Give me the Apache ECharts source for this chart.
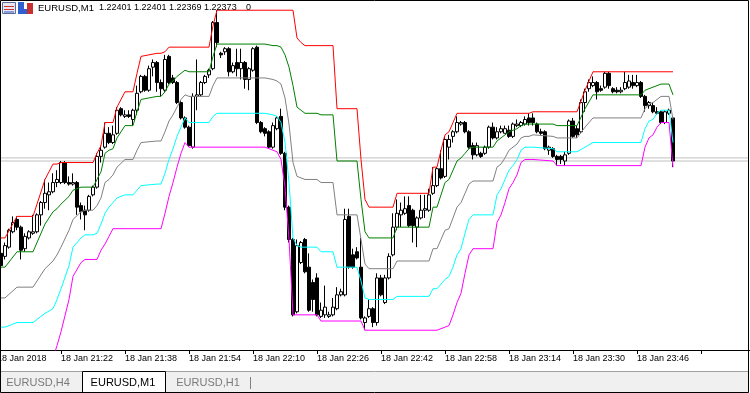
<!DOCTYPE html>
<html><head><meta charset="utf-8">
<script src="https://cdn.jsdelivr.net/npm/echarts/dist/echarts.min.js"></script>
<style>html,body{margin:0;padding:0;background:#fff;}#c{width:750px;height:393px;}</style>
</head><body><div id="c"></div>
<script>
// ---- chart header / labels ----
const symbol = 'EURUSD,M1';
const headerOHLC = [1.22401, 1.22401, 1.22369, 1.22373];
const headerExtra = '0';
const tickLabels = ['18 Jan 2018','18 Jan 21:22','18 Jan 21:38','18 Jan 21:54','18 Jan 22:10','18 Jan 22:26','18 Jan 22:42','18 Jan 22:58','18 Jan 23:14','18 Jan 23:30','18 Jan 23:46'];
const tabs = ['EURUSD,H4','EURUSD,M1','EURUSD,H1'];
const activeTab = 1;
const bidPrice = 1.22373, askPrice = 1.22375;

// ---- M1 candles from 21:06 ----
const open = [
1.22312,1.22313,1.22311,1.22317,1.22327,1.22335,1.22330,1.22316,1.22323,1.22326,
1.22327,1.22338,1.22346,1.22351,1.22353,1.22359,1.22359,1.22372,1.22359,1.22358,
1.22359,1.22344,1.22341,1.22341,1.22351,1.22356,1.22376,1.22382,1.22391,1.22385,
1.22391,1.22407,1.22402,1.22403,1.22400,1.22406,1.22418,1.22428,1.22419,1.22434,
1.22437,1.22424,1.22419,1.22441,1.22427,1.22424,1.22411,1.22401,1.22395,1.22382,
1.22415,1.22416,1.22424,1.22429,1.22433,1.22463,1.22443,1.22444,1.22446,1.22431,
1.22437,1.22433,1.22437,1.22426,1.22432,1.22447,1.22398,1.22394,1.22392,1.22382,
1.22394,1.22402,1.22378,1.22343,1.22322,1.22275,1.22307,1.22322,1.22304,1.22294,
1.22297,1.22272,1.22273,1.22272,1.22273,1.22277,1.22286,1.22286,1.22337,1.22312,
1.22314,1.22304,1.22268,1.22272,1.22277,1.22268,1.22297,1.22281,1.22297,1.22312,
1.22330,1.22338,1.22339,1.22344,1.22341,1.22330,1.22336,1.22341,1.22341,1.22352,
1.22357,1.22368,1.22363,1.22382,1.22389,1.22392,1.22397,1.22398,1.22392,1.22383,
1.22377,1.22378,1.22378,1.22382,1.22395,1.22388,1.22392,1.22391,1.22393,1.22389,
1.22396,1.22396,1.22397,1.22401,1.22401,1.22397,1.22392,1.22392,1.22380,1.22381,
1.22376,1.22376,1.22373,1.22378,1.22399,1.22394,1.22392,1.22411,1.22420,1.22422,
1.22424,1.22420,1.22421,1.22430,1.22420,1.22419,1.22418,1.22420,1.22421,1.22424,
1.22422,1.22424,1.22415,1.22409,1.22409,1.22405,1.22405,1.22398,1.22404,1.22401];
const close = [
1.22305,1.22305,1.22318,1.22328,1.22333,1.22330,1.22315,1.22324,1.22327,1.22327,
1.22338,1.22346,1.22352,1.22353,1.22359,1.22361,1.22372,1.22359,1.22358,1.22359,
1.22343,1.22340,1.22338,1.22350,1.22356,1.22376,1.22380,1.22391,1.22385,1.22390,
1.22406,1.22403,1.22403,1.22402,1.22406,1.22417,1.22428,1.22419,1.22433,1.22437,
1.22424,1.22420,1.22439,1.22424,1.22424,1.22411,1.22401,1.22395,1.22383,1.22415,
1.22416,1.22424,1.22428,1.22432,1.22463,1.22450,1.22442,1.22446,1.22431,1.22435,
1.22433,1.22437,1.22426,1.22433,1.22446,1.22398,1.22392,1.22391,1.22382,1.22396,
1.22401,1.22378,1.22343,1.22322,1.22273,1.22318,1.22320,1.22301,1.22276,1.22283,
1.22273,1.22276,1.22278,1.22273,1.22278,1.22286,1.22288,1.22335,1.22304,1.22304,
1.22310,1.22271,1.22271,1.22277,1.22268,1.22297,1.22286,1.22297,1.22311,1.22330,
1.22339,1.22341,1.22342,1.22331,1.22331,1.22336,1.22341,1.22342,1.22351,1.22357,
1.22368,1.22362,1.22387,1.22387,1.22392,1.22398,1.22398,1.22392,1.22382,1.22377,
1.22383,1.22376,1.22382,1.22395,1.22388,1.22392,1.22394,1.22394,1.22389,1.22397,
1.22397,1.22398,1.22400,1.22398,1.22398,1.22392,1.22391,1.22381,1.22382,1.22376,
1.22374,1.22374,1.22377,1.22399,1.22389,1.22390,1.22411,1.22418,1.22424,1.22424,
1.22418,1.22419,1.22430,1.22422,1.22418,1.22418,1.22419,1.22424,1.22425,1.22422,
1.22424,1.22415,1.22409,1.22411,1.22405,1.22404,1.22398,1.22405,1.22406,1.22373];
const low = [
1.22302,1.22302,1.22309,1.22316,1.22326,1.22328,1.22309,1.22314,1.22322,1.22325,
1.22326,1.22331,1.22342,1.22341,1.22352,1.22356,1.22358,1.22358,1.22357,1.22357,
1.22338,1.22335,1.22328,1.22340,1.22350,1.22355,1.22372,1.22381,1.22384,1.22384,
1.22390,1.22402,1.22401,1.22401,1.22396,1.22403,1.22417,1.22418,1.22418,1.22428,
1.22418,1.22415,1.22418,1.22423,1.22423,1.22410,1.22400,1.22394,1.22382,1.22381,
1.22406,1.22415,1.22423,1.22427,1.22432,1.22447,1.22440,1.22442,1.22428,1.22430,
1.22428,1.22426,1.22420,1.22419,1.22431,1.22397,1.22391,1.22389,1.22381,1.22381,
1.22393,1.22377,1.22341,1.22320,1.22272,1.22274,1.22306,1.22300,1.22275,1.22275,
1.22272,1.22271,1.22271,1.22271,1.22272,1.22276,1.22285,1.22285,1.22303,1.22303,
1.22309,1.22270,1.22263,1.22271,1.22265,1.22266,1.22285,1.22280,1.22296,1.22311,
1.22328,1.22330,1.22338,1.22330,1.22320,1.22317,1.22335,1.22336,1.22340,1.22351,
1.22356,1.22361,1.22362,1.22374,1.22385,1.22391,1.22396,1.22391,1.22381,1.22374,
1.22376,1.22375,1.22377,1.22381,1.22387,1.22387,1.22391,1.22391,1.22388,1.22388,
1.22395,1.22395,1.22396,1.22396,1.22396,1.22391,1.22390,1.22380,1.22377,1.22375,
1.22370,1.22371,1.22370,1.22377,1.22388,1.22388,1.22391,1.22405,1.22418,1.22421,
1.22413,1.22418,1.22420,1.22420,1.22417,1.22417,1.22417,1.22419,1.22420,1.22420,
1.22421,1.22414,1.22405,1.22407,1.22404,1.22403,1.22397,1.22397,1.22403,1.22369];
const high = [
1.22315,1.22315,1.22320,1.22329,1.22337,1.22337,1.22331,1.22326,1.22328,1.22338,
1.22339,1.22347,1.22361,1.22359,1.22365,1.22367,1.22373,1.22373,1.22363,1.22365,
1.22360,1.22346,1.22344,1.22351,1.22357,1.22378,1.22383,1.22398,1.22395,1.22396,
1.22408,1.22408,1.22406,1.22406,1.22407,1.22422,1.22429,1.22429,1.22435,1.22439,
1.22438,1.22426,1.22442,1.22442,1.22429,1.22425,1.22412,1.22402,1.22396,1.22417,
1.22439,1.22425,1.22429,1.22433,1.22464,1.22471,1.22444,1.22447,1.22447,1.22437,
1.22446,1.22446,1.22438,1.22434,1.22447,1.22448,1.22399,1.22395,1.22393,1.22398,
1.22402,1.22407,1.22379,1.22344,1.22323,1.22322,1.22321,1.22323,1.22313,1.22296,
1.22300,1.22281,1.22292,1.22275,1.22284,1.22291,1.22290,1.22342,1.22342,1.22316,
1.22317,1.22323,1.22272,1.22283,1.22278,1.22300,1.22299,1.22299,1.22313,1.22339,
1.22348,1.22346,1.22350,1.22350,1.22342,1.22337,1.22351,1.22351,1.22355,1.22369,
1.22369,1.22380,1.22389,1.22390,1.22393,1.22402,1.22399,1.22399,1.22393,1.22385,
1.22385,1.22379,1.22383,1.22396,1.22398,1.22395,1.22396,1.22396,1.22396,1.22398,
1.22400,1.22399,1.22402,1.22404,1.22404,1.22398,1.22394,1.22393,1.22383,1.22382,
1.22377,1.22377,1.22379,1.22400,1.22401,1.22396,1.22413,1.22420,1.22426,1.22428,
1.22425,1.22422,1.22431,1.22431,1.22421,1.22421,1.22421,1.22431,1.22429,1.22429,
1.22429,1.22425,1.22416,1.22412,1.22411,1.22408,1.22406,1.22406,1.22407,1.22401];

// ---- channel lines: bar index of each vertex and the level there ----
const bandIdx = [0,2,5,9,12,14,15,16,18,19,21,22,24,25,26,27,28,29,30,32,34,35,36,40,41,42,43,44,45,46,47,48,53,54,55,67,69,70,71,72,73,74,75,76,77,80,81,84,85,90,91,92,93,99,100,108,109,110,111,112,113,114,115,116,117,118,119,124,125,126,127,128,129,130,131,132,133,134,139,140,145,147,149,161,162,163,164,165,166,168,169];
const upper = [
1.22323,1.22323,1.22337,1.22337,1.22361,1.22371,1.22371,1.22372,1.22372,1.22372,
1.22372,1.22372,1.22372,1.22378,1.22383,1.22398,1.22398,1.22398,1.22408,1.22418,
1.22418,1.22430,1.22441,1.22443,1.22443,1.22444,1.22447,1.22447,1.22447,1.22447,
1.22447,1.22447,1.22447,1.22461,1.22471,1.22471,1.22471,1.22471,1.22471,1.22471,
1.22471,1.22471,1.22453,1.22450,1.22448,1.22448,1.22448,1.22448,1.22407,1.22407,
1.22374,1.22348,1.22343,1.22343,1.22352,1.22352,1.22369,1.22369,1.22380,1.22390,
1.22392,1.22398,1.22404,1.22404,1.22404,1.22404,1.22404,1.22404,1.22404,1.22404,
1.22404,1.22404,1.22404,1.22404,1.22404,1.22404,1.22404,1.22405,1.22405,1.22405,
1.22405,1.22419,1.22431,1.22431,1.22431,1.22431,1.22431,1.22431,1.22431,1.22431,
1.22431];
const upperQ = [
1.22304,1.22304,1.22314,1.22314,1.22332,1.22340,1.22342,1.22345,1.22350,1.22354,
1.22356,1.22356,1.22356,1.22361,1.22366,1.22378,1.22380,1.22381,1.22388,1.22396,
1.22396,1.22405,1.22413,1.22415,1.22415,1.22418,1.22423,1.22425,1.22428,1.22430,
1.22432,1.22431,1.22431,1.22441,1.22449,1.22449,1.22448,1.22448,1.22447,1.22442,
1.22434,1.22422,1.22408,1.22406,1.22404,1.22404,1.22403,1.22403,1.22373,1.22373,
1.22348,1.22327,1.22323,1.22323,1.22330,1.22330,1.22343,1.22343,1.22351,1.22359,
1.22361,1.22367,1.22373,1.22375,1.22378,1.22381,1.22382,1.22382,1.22386,1.22388,
1.22390,1.22392,1.22393,1.22394,1.22396,1.22397,1.22397,1.22397,1.22397,1.22396,
1.22396,1.22407,1.22416,1.22416,1.22419,1.22420,1.22421,1.22422,1.22423,1.22423,
1.22416];
const middle = [
1.22284,1.22284,1.22291,1.22291,1.22303,1.22308,1.22312,1.22317,1.22328,1.22335,
1.22340,1.22341,1.22341,1.22344,1.22349,1.22359,1.22361,1.22364,1.22369,1.22374,
1.22374,1.22380,1.22385,1.22386,1.22386,1.22392,1.22399,1.22403,1.22408,1.22413,
1.22416,1.22415,1.22415,1.22422,1.22427,1.22427,1.22426,1.22425,1.22423,1.22414,
1.22397,1.22372,1.22363,1.22362,1.22361,1.22361,1.22359,1.22359,1.22338,1.22338,
1.22322,1.22306,1.22303,1.22303,1.22308,1.22308,1.22316,1.22316,1.22322,1.22328,
1.22329,1.22336,1.22343,1.22346,1.22352,1.22358,1.22360,1.22360,1.22369,1.22371,
1.22375,1.22380,1.22382,1.22384,1.22388,1.22389,1.22389,1.22390,1.22389,1.22388,
1.22388,1.22395,1.22401,1.22401,1.22407,1.22410,1.22411,1.22413,1.22415,1.22415,
1.22400];
const lowerQ = [
1.22265,1.22265,1.22268,1.22268,1.22274,1.22277,1.22283,1.22290,1.22305,1.22317,
1.22323,1.22325,1.22325,1.22326,1.22332,1.22339,1.22343,1.22346,1.22349,1.22351,
1.22351,1.22354,1.22357,1.22358,1.22358,1.22365,1.22374,1.22381,1.22389,1.22395,
1.22401,1.22398,1.22398,1.22402,1.22404,1.22404,1.22403,1.22402,1.22398,1.22385,
1.22359,1.22323,1.22318,1.22317,1.22317,1.22317,1.22314,1.22314,1.22304,1.22304,
1.22295,1.22284,1.22283,1.22283,1.22285,1.22285,1.22290,1.22290,1.22293,1.22296,
1.22298,1.22304,1.22312,1.22316,1.22326,1.22335,1.22338,1.22338,1.22351,1.22355,
1.22361,1.22367,1.22370,1.22374,1.22380,1.22382,1.22382,1.22382,1.22381,1.22379,
1.22379,1.22382,1.22385,1.22385,1.22394,1.22399,1.22400,1.22404,1.22406,1.22406,
1.22385];
const lower = [
1.22245,1.22245,1.22245,1.22245,1.22245,1.22245,1.22253,1.22262,1.22283,1.22298,
1.22307,1.22309,1.22309,1.22309,1.22315,1.22319,1.22324,1.22329,1.22329,1.22329,
1.22329,1.22329,1.22329,1.22329,1.22329,1.22339,1.22350,1.22359,1.22369,1.22378,
1.22385,1.22382,1.22382,1.22382,1.22382,1.22382,1.22380,1.22379,1.22374,1.22356,
1.22322,1.22273,1.22273,1.22273,1.22273,1.22273,1.22269,1.22269,1.22269,1.22269,
1.22269,1.22263,1.22263,1.22263,1.22263,1.22263,1.22263,1.22263,1.22264,1.22265,
1.22266,1.22273,1.22281,1.22287,1.22300,1.22312,1.22316,1.22316,1.22333,1.22338,
1.22346,1.22355,1.22359,1.22364,1.22372,1.22374,1.22374,1.22374,1.22373,1.22370,
1.22370,1.22370,1.22370,1.22370,1.22382,1.22388,1.22390,1.22395,1.22398,1.22398,
1.22369];

// ---- build ----
const startMinute = 21 * 60 + 6, slotCount = 189, labelStep = 16;
const categories = [];
for (let i = 0; i < slotCount; i++) {
  const m = startMinute + i;
  categories.push(String(Math.floor(m / 60) % 24).padStart(2, '0') + ':' + String(m % 60).padStart(2, '0'));
}
const candleData = open.map((o, i) => [o, close[i], low[i], high[i]]);
const pts = arr => bandIdx.map((ix, k) => [ix, arr[k]]);
const showTick = idx => idx % labelStep === 0;
const FONT = '"Liberation Sans", Arial, sans-serif';

function lineSeries(name, data, color, z) {
  return { name, type: 'line', data, symbol: 'none', showSymbol: false, silent: true, z,
    lineStyle: { color, width: 1 }, emphasis: { disabled: true }, animation: false };
}
const priceLine = p => [[0, p], [slotCount - 1, p]];

const chart = echarts.init(document.getElementById('c'), null, { renderer: 'canvas' });
const graphic = [
  { type: 'rect', shape: { x: 1, y: 372, width: 747, height: 20 }, style: { fill: '#f0f0f0' }, z: 10 },
  { type: 'line', shape: { x1: 1, y1: 371.5, x2: 748, y2: 371.5 }, style: { stroke: '#a0a0a0', lineWidth: 1 }, z: 11 },
  { type: 'rect', shape: { x: 82.5, y: 371.5, width: 83, height: 21 }, style: { fill: '#ffffff', stroke: '#000', lineWidth: 1 }, z: 11 },
  { type: 'line', shape: { x1: 250.5, y1: 377, x2: 250.5, y2: 389 }, style: { stroke: '#808080', lineWidth: 1 }, z: 11 },
  { type: 'rect', shape: { x: 0.5, y: 0.5, width: 748, height: 392 }, style: { fill: 'none', stroke: '#000', lineWidth: 1 }, z: 12 },
  // header icons
  { type: 'rect', shape: { x: 2.5, y: 2.5, width: 13, height: 11 }, style: { fill: '#e8e8f0', stroke: '#5a6a9a', lineWidth: 1 }, z: 12 },
  { type: 'line', shape: { x1: 4, y1: 6.5, x2: 14, y2: 6.5 }, style: { stroke: '#d03030', lineWidth: 1 }, z: 13 },
  { type: 'line', shape: { x1: 4, y1: 9.5, x2: 14, y2: 9.5 }, style: { stroke: '#d03030', lineWidth: 1 }, z: 13 },
  { type: 'line', shape: { x1: 4, y1: 12, x2: 14, y2: 12 }, style: { stroke: '#3050c0', lineWidth: 1 }, z: 13 },
  { type: 'rect', shape: { x: 18, y: 2, width: 6, height: 12 }, style: { fill: '#3060d0' }, z: 12 },
  { type: 'rect', shape: { x: 24, y: 9, width: 4, height: 5 }, style: { fill: '#3060d0' }, z: 12 },
  { type: 'rect', shape: { x: 27, y: 3, width: 6, height: 11 }, style: { fill: '#c83030' }, z: 12 },
  { type: 'text', x: 38, y: 8, style: { text: symbol, font: '9.5px ' + FONT, fill: '#000', verticalAlign: 'middle', align: 'left' }, z: 12 },
  { type: 'text', x: 99, y: 8, style: { text: headerOHLC.map(v => v.toFixed(5)).join(' '), font: '9px ' + FONT, fill: '#000', verticalAlign: 'middle', align: 'left' }, z: 12 },
  { type: 'text', x: 246, y: 8, style: { text: headerExtra, font: '9px ' + FONT, fill: '#000', verticalAlign: 'middle', align: 'left' }, z: 12 }
];
const tabCenters = [38, 123, 208];
tabs.forEach((t, k) => graphic.push({ type: 'text', x: tabCenters[k], y: 383,
  style: { text: t, font: '11px ' + FONT, fill: k === activeTab ? '#000' : '#7a7a7a', align: 'center', verticalAlign: 'middle' }, z: 13 }));

chart.setOption({
  animation: false,
  backgroundColor: '#ffffff',
  grid: { left: -5, top: 1, width: slotCount * 4, height: 349, containLabel: false, outerBoundsMode: 'none', show: false },
  xAxis: {
    type: 'category', data: categories, boundaryGap: true,
    axisLine: { show: true, lineStyle: { color: '#000', width: 1 } },
    axisTick: { show: true, alignWithLabel: true, interval: showTick, length: 4, lineStyle: { color: '#000' } },
    axisLabel: { interval: showTick, formatter: (v, idx) => tickLabels[idx / labelStep] || '', align: 'left',
      margin: 4, fontSize: 9, fontFamily: FONT, color: '#000', hideOverlap: false, alignMinLabel: 'left', alignMaxLabel: 'left' },
    splitLine: { show: false }
  },
  yAxis: { type: 'value', min: 1.2225015, max: 1.22477, show: false, splitLine: { show: false } },
  series: [
    lineSeries('Ask', priceLine(askPrice), '#c0c0c0', 1),
    lineSeries('Bid', priceLine(bidPrice), '#c0c0c0', 1),
    { name: symbol, type: 'candlestick', data: candleData, barWidth: 3, z: 3, silent: true,
      itemStyle: { color: '#ffffff', color0: '#000000', borderColor: '#000000', borderColor0: '#000000', borderWidth: 1 } },
    lineSeries('Upper', pts(upper), '#ff0000', 4),
    lineSeries('Upper quartile', pts(upperQ), '#008000', 4),
    lineSeries('Middle', pts(middle), '#808080', 4),
    lineSeries('Lower quartile', pts(lowerQ), '#00ffff', 4),
    lineSeries('Lower', pts(lower), '#ff00ff', 4)
  ],
  graphic
});
</script></body></html>
